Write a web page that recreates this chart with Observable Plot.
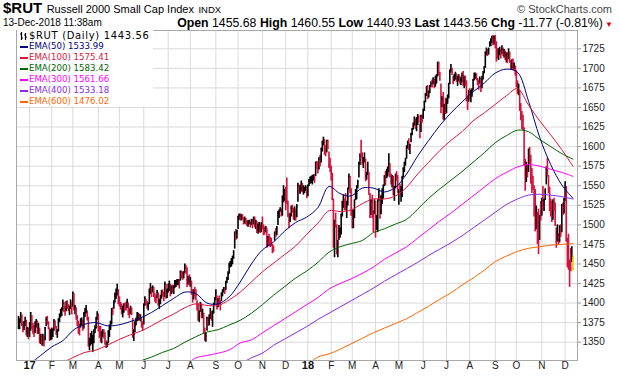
<!DOCTYPE html>
<html><head><meta charset="utf-8">
<script src="https://cdn.jsdelivr.net/npm/d3@7"></script>
<script src="https://cdn.jsdelivr.net/npm/@observablehq/plot@0.6"></script>
<style>
body{margin:0;background:#fff;font-family:"Liberation Sans",Arial,sans-serif;color:#000}
#wrap{position:relative;width:620px;height:376px;overflow:hidden;background:#fff}
#hdr{position:relative;height:30px;width:620px}
.l{position:absolute;white-space:nowrap;line-height:14px}
#legend{position:absolute;left:17px;top:30px;width:136px;height:76px;background:#fff;font-family:"DejaVu Sans",Verdana,sans-serif}
.row{position:absolute;left:0;height:11px;line-height:11px;white-space:nowrap}
.sw{position:absolute;left:3px;top:5px;width:8px;height:2px}
.tx{position:absolute;left:12px;top:0;font-size:8.6px}
#chart svg{display:block}
</style></head><body>
<div id="wrap">
 <div id="hdr">
  <div class="l" style="left:3px;top:1px"><b style="font-size:15px">$RUT</b> <span style="font-size:11px">Russell 2000 Small Cap Index</span> <span style="font-size:9.5px">INDX</span></div>
  <div class="l" style="right:8px;top:2px;font-size:11px;color:#444">© StockCharts.com</div>
  <div class="l" style="left:3px;top:16px;font-size:10px">13-Dec-2018 11:38am</div>
  <div class="l" style="right:7px;top:16px;font-size:12.3px"><b>Open</b> 1455.68 <b>High</b> 1460.55 <b>Low</b> 1440.93 <b>Last</b> 1443.56 <b>Chg</b> -11.77 (-0.81%)<span style="color:#d00;font-size:8px"> ▼</span></div>
 </div>
 <div id="chart"></div>
 <div id="legend"></div>
</div>
<script>
// ---- data ----
const firstDay = "2016-12-16", lastDay = "2018-12-13";
const holidays = ["2016-12-26","2017-01-02","2017-01-16","2017-02-20","2017-04-14","2017-05-29","2017-07-04","2017-09-04","2017-11-23","2017-12-25","2018-01-01","2018-01-15","2018-02-19","2018-03-30","2018-05-28","2018-07-04","2018-09-03","2018-11-22","2018-12-05"];
const monthLabels = ["17","F","M","A","M","J","J","A","S","O","N","D","18","F","M","A","M","J","J","A","S","O","N","D"];
const yearLabels = ["17","18"];
const yTicks = [1350,1375,1400,1425,1450,1475,1500,1525,1550,1575,1600,1625,1650,1675,1700,1725];

const close = [
1371,1375,1383,1374,1367,1373,1377,1360,1363,1357,
1365,1387,1371,1369,1362,1374,1377,1364,1372,1350,1357,1350,1352,1351,1368,1379,1375,1370,1360,1361,
1364,1365,1377,1371,1361,1363,1376,1383,1389,1392,1400,1395,1390,1399,1396,1394,1394,1401,1387,
1413,1394,1395,1384,1375,1367,1365,1376,1377,1368,1385,1388,1390,1381,1345,1350,1355,1355,1355,1362,1368,1379,1386,
1370,1366,1351,1360,1362,1361,1349,1344,1345,1364,1368,1369,1391,1389,1400,1409,1411,1416,1400,
1398,1397,1391,1391,1397,1396,1394,1402,1390,1386,1393,1387,1357,1360,1371,1378,1383,1383,1382,1382,1373,1370,
1398,1406,1401,1395,1397,1415,1421,1417,1420,1414,1408,1406,1414,1398,1402,1404,1414,1411,1403,1424,1411,1415,
1417,1425,1410,1420,1418,1419,1425,1426,1426,1428,1427,1440,1437,1435,1437,1446,1441,1430,1431,1425,
1425,1416,1404,1415,1413,1410,1398,1378,1383,1397,1384,1387,1362,1356,1358,1381,1372,1377,1385,1384,1388,1398,1405,
1413,1394,1404,1400,1397,1411,1416,1419,1416,1426,1431,1437,1449,1452,1456,1458,1465,1489,1486,1491,
1510,1512,1509,1511,1510,1503,1507,1504,1501,1502,1502,1501,1505,1503,1508,1498,1504,1491,1497,1500,1492,1502,
1499,1495,1491,1496,1476,1484,1482,1480,1478,1469,1467,1490,1487,1496,1515,1515,1519,1512,1536,1538,1544,
1533,1529,1513,1503,1510,1521,1518,1509,1517,1510,1523,1550,1540,1548,1552,1543,1544,1545,1548,1535,
1550,1556,1560,1560,1561,1563,1561,1580,1576,1570,1584,1579,1597,1605,1608,1594,1593,1608,1598,1576,1575,
1566,1533,1478,1505,1498,1463,1477,1492,1495,1513,1529,1533,1525,1520,1523,1546,1562,1544,1513,
1505,1518,1531,1541,1548,1555,1579,1588,1586,1579,1581,1586,1559,1564,1569,1539,1510,1531,1514,1512,1529,
1492,1510,1530,1543,1510,1518,1544,1548,1561,1557,1567,1567,1578,1564,1556,1556,1547,1547,1563,1561,1541,
1542,1541,1542,1560,1572,1575,1584,1600,1605,1598,1602,1616,1622,1626,1632,1626,1636,1637,1632,1613,1639,1634,
1647,1657,1666,1674,1668,1669,1677,1680,1678,1687,1684,1686,1688,1706,1693,1685,1655,1661,1636,1650,1643,
1660,1660,1680,1696,1699,1696,1683,1690,1692,1684,1686,1688,1682,1686,1691,1680,1683,1681,1661,1656,1670,
1665,1670,1672,1685,1690,1691,1688,1683,1680,1687,1676,1686,1693,1700,1720,1723,1720,1725,1732,1733,1740,1732,1740,
1735,1723,1716,1722,1722,1721,1725,1720,1720,1714,1718,1714,1719,1708,1703,1703,1699,1702,1696,
1681,1671,1677,1650,1640,1636,1624,1577,1546,1571,1565,1596,1588,1560,1553,1548,1541,1493,1519,1494,1489,1512,1511,
1531,1523,1531,1543,1572,1565,1549,1520,1518,1511,1529,1528,1501,1479,1488,1478,1497,1491,1525,1522,1533,
1548,1480,1477,1448,1447,1444,1460,1443.56];

const high = [
1383,1380,1388,1385,1376,1376,1382,1378,1369,1368,
1375,1388,1384,1374,1371,1376,1379,1377,1374,1368,1360,1360,1360,1358,1369,1382,1383,1376,1368,1366,
1368,1367,1379,1377,1370,1366,1380,1386,1392,1394,1404,1401,1396,1402,1403,1398,1396,1404,1400,
1414,1412,1397,1394,1384,1377,1373,1380,1381,1378,1388,1393,1397,1390,1382,1355,1361,1364,1359,1366,1371,1382,1389,
1386,1370,1370,1364,1366,1366,1362,1352,1350,1365,1372,1377,1393,1394,1403,1413,1418,1424,1417,
1408,1401,1399,1396,1399,1400,1401,1405,1400,1393,1396,1394,1380,1366,1376,1381,1388,1387,1386,1385,1380,1376,
1399,1408,1405,1402,1400,1418,1425,1420,1422,1420,1412,1409,1416,1413,1405,1410,1416,1417,1414,1427,1424,1418,
1424,1428,1424,1422,1423,1422,1429,1429,1430,1430,1430,1441,1441,1440,1440,1450,1448,1445,1434,1436,
1433,1428,1417,1417,1420,1417,1403,1399,1390,1401,1399,1392,1387,1368,1362,1382,1382,1385,1393,1389,1390,1400,1407,
1417,1409,1406,1409,1403,1413,1417,1420,1420,1428,1433,1440,1451,1453,1457,1460,1467,1491,1494,1493,
1511,1514,1514,1513,1513,1509,1510,1508,1506,1505,1506,1503,1507,1507,1510,1510,1506,1504,1501,1503,1500,1503,
1510,1500,1497,1498,1495,1485,1488,1484,1483,1475,1473,1491,1495,1498,1517,1519,1522,1520,1537,1550,1545,
1548,1560,1530,1515,1514,1524,1525,1521,1523,1520,1526,1553,1551,1550,1556,1553,1550,1548,1550,1548,
1551,1558,1561,1562,1563,1564,1564,1580,1581,1580,1586,1589,1598,1607,1612,1609,1601,1608,1608,1593,1585,
1575,1566,1533,1506,1515,1500,1480,1499,1496,1514,1530,1538,1533,1540,1530,1547,1565,1562,1546,
1519,1519,1532,1545,1550,1557,1580,1591,1608,1592,1586,1592,1584,1567,1580,1567,1540,1532,1538,1518,1532,
1530,1512,1532,1546,1538,1537,1546,1551,1563,1568,1571,1574,1591,1578,1565,1563,1562,1549,1565,1568,1563,
1545,1552,1549,1562,1573,1580,1585,1601,1607,1610,1603,1617,1623,1630,1638,1635,1637,1641,1640,1629,1640,1640,
1648,1658,1668,1677,1678,1671,1678,1683,1685,1688,1686,1690,1692,1708,1708,1695,1680,1664,1669,1654,1662,
1661,1666,1681,1698,1705,1700,1690,1692,1695,1693,1690,1692,1690,1688,1694,1696,1690,1690,1684,1665,1672,
1674,1672,1674,1686,1694,1694,1693,1687,1685,1689,1685,1690,1696,1702,1721,1726,1724,1726,1734,1738,1741,1742,1741,
1742,1734,1725,1725,1727,1724,1729,1726,1724,1722,1720,1720,1725,1721,1710,1711,1712,1707,1703,
1697,1684,1680,1672,1655,1645,1640,1624,1584,1580,1577,1597,1599,1589,1572,1562,1550,1545,1524,1516,1520,1512,1530,
1534,1549,1533,1546,1574,1585,1563,1548,1533,1530,1532,1534,1528,1496,1500,1489,1499,1500,1526,1528,1534,
1555,1549,1483,1488,1455,1470,1472,1460.55];

const low = [
1366,1366,1374,1370,1362,1365,1370,1358,1356,1353,
1356,1364,1367,1360,1356,1361,1368,1360,1360,1348,1347,1345,1345,1344,1352,1370,1372,1366,1351,1352,
1353,1356,1364,1367,1359,1355,1363,1375,1381,1383,1390,1388,1383,1389,1392,1389,1384,1392,1385,
1395,1390,1385,1378,1370,1360,1358,1368,1370,1364,1367,1382,1386,1377,1344,1339,1345,1347,1337,1348,1361,1367,1378,
1363,1355,1349,1348,1356,1354,1346,1342,1343,1348,1356,1365,1372,1384,1392,1400,1405,1409,1398,
1395,1391,1385,1381,1387,1390,1390,1393,1384,1380,1385,1384,1355,1351,1362,1371,1376,1377,1377,1376,1368,1364,
1372,1396,1397,1392,1390,1398,1411,1407,1413,1407,1401,1399,1406,1396,1392,1398,1405,1408,1402,1407,1405,1406,
1413,1415,1408,1411,1413,1411,1419,1420,1422,1422,1418,1428,1431,1429,1431,1438,1437,1420,1423,1422,
1420,1410,1400,1404,1408,1403,1390,1377,1375,1388,1380,1380,1361,1351,1350,1364,1370,1371,1379,1377,1369,1386,1397,
1403,1391,1394,1398,1390,1402,1408,1413,1411,1416,1425,1429,1437,1445,1446,1449,1456,1469,1480,1482,
1494,1506,1505,1505,1506,1500,1501,1500,1498,1497,1500,1496,1499,1495,1500,1496,1494,1489,1488,1490,1489,1490,
1494,1486,1487,1490,1470,1472,1473,1471,1472,1463,1465,1479,1484,1486,1499,1508,1516,1510,1511,1528,1530,
1518,1526,1509,1495,1503,1510,1515,1506,1505,1505,1509,1529,1539,1539,1542,1541,1538,1540,1543,1534,
1536,1549,1552,1553,1551,1556,1553,1562,1571,1565,1570,1574,1579,1593,1601,1589,1587,1592,1596,1572,1567,
1556,1531,1470,1458,1496,1462,1458,1480,1483,1487,1510,1521,1518,1518,1508,1524,1545,1540,1511,
1495,1495,1508,1531,1532,1546,1560,1576,1585,1576,1572,1579,1555,1557,1563,1538,1508,1512,1508,1490,1513,
1483,1493,1490,1530,1507,1513,1526,1533,1549,1550,1559,1561,1567,1560,1551,1547,1537,1530,1546,1556,1540,
1525,1538,1529,1535,1560,1567,1575,1584,1597,1595,1590,1605,1614,1621,1626,1622,1619,1627,1630,1610,1618,1630,
1635,1645,1656,1664,1660,1662,1668,1676,1675,1679,1674,1676,1680,1689,1691,1684,1642,1650,1634,1633,1641,
1642,1654,1661,1679,1694,1691,1679,1683,1685,1682,1677,1683,1680,1678,1682,1677,1674,1677,1657,1646,1657,
1660,1656,1663,1671,1684,1686,1684,1678,1672,1680,1669,1674,1685,1693,1700,1716,1715,1717,1727,1728,1732,1729,1730,
1725,1708,1712,1710,1716,1712,1718,1715,1713,1710,1707,1706,1711,1707,1698,1699,1697,1698,1690,
1675,1667,1665,1645,1633,1622,1620,1576,1543,1554,1560,1567,1577,1552,1540,1544,1510,1491,1494,1475,1462,1480,1505,
1511,1519,1517,1531,1551,1561,1540,1517,1510,1503,1506,1517,1498,1470,1478,1474,1477,1484,1490,1512,1514,
1530,1478,1445,1442,1420,1440,1452,1440.93];

// EMA values read every 10 trading days (index 0,10,...,500); null = not yet on the chart
const ema50 = [null,1322,1333,1344,1352,1366,1373,1375,1371,1372,1376,1381,1388,1397,1406,1414,1412,1400,1399,1408,1427,1450,1468,1478,1492,1503,1510,1522,1549,1540,1537,1547,1547,1542,1548,1565,1588,1608,1627,1643,1657,1670,1681,1694,1699,1695,1658,1612,1577,1551,1534];
const ema100 = [null,null,null,null,1324,1331,1337,1340,1346,1353,1359,1364,1371,1379,1386,1394,1399,1397,1397,1404,1414,1427,1440,1451,1462,1473,1488,1502,1518,1517,1519,1527,1533,1533,1537,1548,1565,1580,1595,1608,1619,1633,1643,1654,1665,1674,1653,1633,1615,1596,1575];
const ema200 = [null,null,null,null,null,null,null,null,null,null,1320,1326,1331,1337,1342,1350,1357,1363,1366,1372,1378,1387,1398,1410,1421,1432,1441,1452,1465,1472,1476,1480,1490,1495,1501,1507,1520,1534,1546,1557,1568,1580,1592,1605,1614,1621,1619,1609,1600,1591,1584];
const ema300 = [null,null,null,null,null,null,null,null,null,null,null,null,null,null,null,1320,1330,1333,1336,1340,1349,1353,1362,1371,1380,1389,1398,1407,1418,1425,1431,1438,1446,1456,1464,1472,1483,1494,1505,1515,1526,1537,1548,1559,1567,1574,1577,1575,1571,1567,1562];
const ema400 = [null,null,null,null,null,null,null,null,null,null,null,null,null,null,null,null,null,null,null,null,1322,1330,1336,1346,1354,1362,1370,1379,1387,1395,1403,1411,1419,1428,1436,1444,1452,1461,1469,1477,1486,1496,1506,1516,1526,1533,1538,1539,1538,1536,1533];
const ema600 = [null,null,null,null,null,null,null,null,null,null,null,null,null,null,null,null,null,null,null,null,null,null,null,null,null,null,1320,1331,1335,1341,1348,1355,1362,1368,1374,1380,1388,1396,1405,1413,1423,1432,1442,1453,1460,1466,1470,1472,1474,1475,1476];

const seriesNames = ["EMA(50)","EMA(100)","EMA(200)","EMA(300)","EMA(400)","EMA(600)"];
const seriesColors = ["#000080","#dc143c","#006400","#ff00ff","#8a2be2","#ff6600"];
const seriesLast = ["1533.99","1575.41","1583.42","1561.66","1533.18","1476.02"];
const priceLabel = "$RUT (Daily) 1443.56";

// ---- build ----
function tradingDays(){
  const out=[]; const hs=new Set(holidays);
  const end = new Date(lastDay+"T00:00:00Z");
  for(let d=new Date(firstDay+"T00:00:00Z"); d<=end; d=new Date(d.getTime()+864e5)){
    const wd=d.getUTCDay(); const s=d.toISOString().slice(0,10);
    if(wd!==0&&wd!==6&&!hs.has(s)) out.push(s);
  }
  return out;
}
const dates = tradingDays();
if (dates.length !== close.length) console.error("length mismatch", dates.length, close.length);
const bars = close.map((c,i)=>({i, hi: high[i], lo: low[i], cl: c,
  col: i===close.length-1 ? "#e6c800" : (i>0 && c < close[i-1] ? "#d4103c" : "#000")}));
const monthStarts = [];
for (let i=1;i<dates.length;i++) if (dates[i].slice(0,7)!==dates[i-1].slice(0,7)) monthStarts.push(i);
const ticks = monthStarts.map((i,k)=>({i, label: monthLabels[k], year: yearLabels.includes(monthLabels[k])}));
const emaRows = [];
[ema50,ema100,ema200,ema300,ema400,ema600].forEach((arr,s)=>arr.forEach((v,k)=>emaRows.push({s, i:k*10, v})));

const W=620, H=346, mL=16, mR=43, mT=0, mB=16;
const pxPerDay = 1.11;
const x0 = -(2/pxPerDay), x1 = (close.length-1) + (4.6/pxPerDay);

const chart = Plot.plot({
  width: W, height: H, marginLeft: mL, marginRight: mR, marginTop: mT, marginBottom: mB,
  style: {fontFamily: '"Liberation Sans", Arial, sans-serif', background: "#fff", color: "#222"},
  x: {type: "linear", domain: [x0, x1], axis: null},
  y: {domain: [1326.6, 1748.4], axis: null},
  marks: [
    Plot.ruleY(yTicks, {stroke: "#dadada", strokeWidth: 1}),
    Plot.ruleX(monthStarts, {stroke: "#dadada", strokeWidth: 1}),
    Plot.ruleX(bars, {x: "i", y1: "lo", y2: "hi", stroke: "col", strokeWidth: 1.6}),
    Plot.ruleY(bars, {y: "cl", x1: "i", x2: d=>d.i+1, stroke: "col", strokeWidth: 1.2}),
    ...seriesColors.map((c,s)=>Plot.line(emaRows.filter(r=>r.s===s && r.v!=null), {x: "i", y: "v", stroke: c, strokeWidth: 1, curve: "catmull-rom", clip: true})),
    Plot.frame({stroke: "#a8a8a8"}),
    Plot.axisY({anchor: "right", ticks: yTicks, tickFormat: d => String(d), tickSize: 3, tickPadding: 2, fontSize: 10, stroke: "#999"}),
    Plot.text(ticks.filter(t=>!t.year), {x: "i", text: "label", frameAnchor: "bottom", dy: 8, fontSize: 10, fill: "#222"}),
    Plot.text(ticks.filter(t=>t.year), {x: "i", text: "label", frameAnchor: "bottom", dy: 8, fontSize: 11, fontWeight: "bold", fill: "#111"})
  ]
});
document.getElementById("chart").appendChild(chart);

// legend overlay
const lg = document.getElementById("legend");
let html = `<div class="row" style="top:0"><svg width="9" height="10" style="position:absolute;left:3px;top:1px"><path d="M1.5 1V9M0 3H1.5M1.5 7H3M5.5 2V9M4 4H5.5M5.5 6H7" stroke="#000" stroke-width="1.2" fill="none"/></svg><span class="tx" style="font-size:10px;letter-spacing:0.65px;left:12px">${priceLabel}</span></div>`;
seriesNames.forEach((n,k)=>{
  html += `<div class="row" style="top:${11*(k+1)}px"><div class="sw" style="background:${seriesColors[k]}"></div><span class="tx" style="color:${seriesColors[k]}">${n} ${seriesLast[k]}</span></div>`;
});
lg.innerHTML = html;
</script>
</body></html>
